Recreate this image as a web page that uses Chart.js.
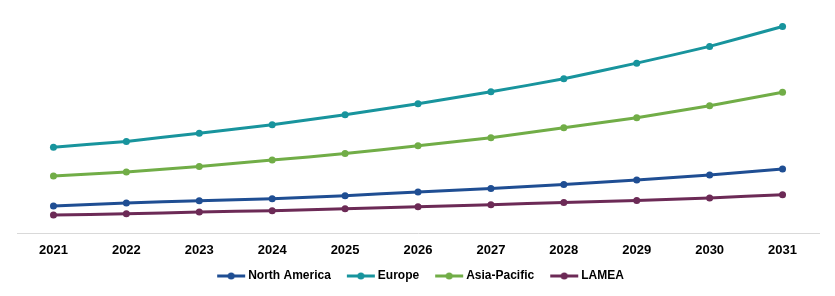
<!DOCTYPE html>
<html>
<head>
<meta charset="utf-8">
<script src="https://cdn.jsdelivr.net/npm/chart.js@4"></script>
<style>
  html, body { margin: 0; padding: 0; background: #fff; }
  #wrap { width: 835px; height: 296px; }
</style>
</head>
<body>
<div id="wrap"><canvas id="marketChart"></canvas></div>
<script>
const years = ["2021", "2022", "2023", "2024", "2025", "2026", "2027", "2028", "2029", "2030", "2031"];
const northAmerica = [27.5, 30.5, 32.8, 34.8, 37.8, 41.5, 45, 49, 53.5, 58.5, 64.5];
const europe = [86.5, 92.2, 100.5, 109, 119, 130, 142, 155, 170.7, 187.5, 207.5];
const asiaPacific = [57.5, 61.5, 67, 73.5, 80, 88, 96, 106, 116, 128, 141.5];
const lamea = [18.5, 19.6, 21.5, 22.8, 24.8, 26.8, 28.8, 31, 33, 35.6, 38.8];

const colors = {
  na: "#1f4e93",
  eu: "#18949d",
  ap: "#71ad47",
  la: "#6c2a56"
};

const fontFamily = "Liberation Sans, Arial, sans-serif";

// line+dot marker for the legend, with a blank strip on the left for spacing
function marker(color) {
  const c = document.createElement("canvas");
  c.width = 40;
  c.height = 8;
  const g = c.getContext("2d");
  g.strokeStyle = color;
  g.lineWidth = 3;
  g.beginPath();
  g.moveTo(10, 4);
  g.lineTo(38, 4);
  g.stroke();
  g.fillStyle = color;
  g.beginPath();
  g.arc(24, 4, 3.5, 0, Math.PI * 2);
  g.fill();
  return c;
}

function series(label, data, color) {
  return {
    label: label,
    data: data,
    borderColor: color,
    backgroundColor: color,
    borderWidth: 3,
    pointRadius: 3.5,
    pointHoverRadius: 3.5,
    pointBorderWidth: 0,
    tension: 0.1,
    legendMarker: marker(color)
  };
}

const ctx = document.getElementById("marketChart");

new Chart(ctx, {
  type: "line",
  data: {
    labels: years,
    datasets: [
      series("North America", northAmerica, colors.na),
      series("Europe", europe, colors.eu),
      series("Asia-Pacific", asiaPacific, colors.ap),
      series("LAMEA", lamea, colors.la)
    ]
  },
  options: {
    responsive: true,
    maintainAspectRatio: false,
    animation: false,
    layout: { padding: { left: 17, right: 16, top: 10, bottom: 14 } },
    plugins: {
      tooltip: { enabled: false },
      legend: {
        position: "bottom",
        maxHeight: 23,
        labels: {
          usePointStyle: true,
          pointStyleWidth: 30,
          padding: 11,
          color: "#000",
          font: { family: fontFamily, size: 12, weight: "bold" },
          generateLabels: chart => chart.data.datasets.map((ds, i) => ({
            text: ds.label,
            pointStyle: ds.legendMarker,
            fillStyle: ds.borderColor,
            strokeStyle: ds.borderColor,
            lineWidth: 0,
            hidden: false,
            datasetIndex: i
          }))
        }
      }
    },
    scales: {
      x: {
        offset: true,
        grid: { display: false },
        border: { display: true, color: "#d9d9d9", width: 1 },
        ticks: {
          color: "#000",
          padding: 1,
          font: { family: fontFamily, size: 13, weight: "bold" }
        }
      },
      y: {
        display: false,
        min: 0,
        max: 224
      }
    }
  }
});
</script>
</body>
</html>
